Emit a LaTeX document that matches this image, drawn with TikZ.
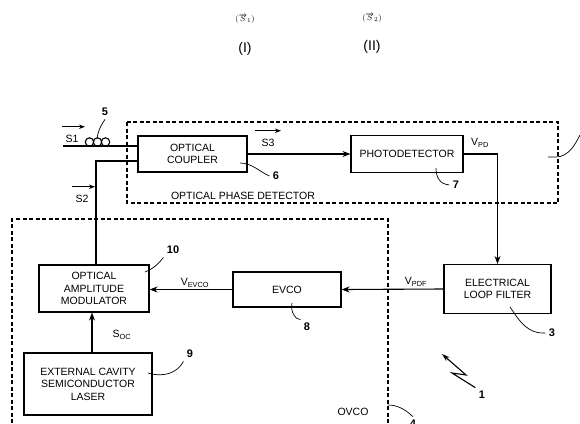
\documentclass[tikz,border=0pt]{standalone}
\usepackage{fontspec}
\setmainfont{Liberation Sans}
\usetikzlibrary{arrows.meta}

\begin{document}
\begin{tikzpicture}[x=1pt, y=-1pt,
      every node/.style={font=\fontsize{10.5}{12.5}\selectfont},
      block/.style={draw, line width=1.1pt, align=center, inner sep=0pt},
      frame/.style={dashed, dash pattern=on 4pt off 2.5pt, line width=1.1pt},
      sig/.style={line width=1.1pt, -{Stealth[length=8pt, width=6pt]}},
      fibre/.style={line width=1.1pt},
      lead/.style={line width=0.7pt},
      refnum/.style={font=\fontsize{11}{12}\selectfont\bfseries}]
    \useasboundingbox (0,0) rectangle (580,423);

    % titles on top
    \node[inner sep=1pt] (S1T) at (245,19) {\fontsize{8}{9}\selectfont $(\overrightarrow{S}_{1})$};
    \node[inner sep=1pt] (S2T) at (372,18) {\fontsize{8}{9}\selectfont $(\overrightarrow{S}_{2})$};
    \node[font=\fontsize{14}{16}\selectfont] (IT) at (245,49) {(I)};
    \node[font=\fontsize{14}{16}\selectfont] (IIT) at (372,47) {(II)};

    % dashed frames
    \draw[frame] (127,122) rectangle (558,203);
    \draw[frame] (12,423) -- (12,219) -- (388,219) -- (388,423);

    % blocks
    \node[block, minimum width=109pt, minimum height=36pt]
          (COUPLER) at (192.5,154) {OPTICAL\\COUPLER};
    \node[block, minimum width=112pt, minimum height=37pt]
          (PD) at (407,154) {PHOTODETECTOR};
    \node[block, minimum width=107pt, minimum height=49pt]
          (LPF) at (497.5,289) {ELECTRICAL\\LOOP FILTER};
    \node[block, minimum width=108pt, minimum height=35pt]
          (EVCO) at (287,289.5) {EVCO};
    \node[block, minimum width=110pt, minimum height=47pt]
          (OAM) at (94,288.5) {OPTICAL\\AMPLITUDE\\MODULATOR};
    \node[block, minimum width=128pt, minimum height=62pt]
          (ECL) at (88,384) {EXTERNAL CAVITY\\SEMICONDUCTOR\\LASER};

    % optical inputs
    \coordinate (S1IN) at (63,146);
    \coordinate (S2BEND) at (96,161);
    \draw[fibre] (S1IN) -- (S1IN -| COUPLER.west);
    \foreach \cx in {89.5,97.5,105.5}
      \draw[fibre] (\cx,142) circle (4.2pt);
    \draw[fibre] (S2BEND -| COUPLER.west) -- (S2BEND) -- (S2BEND |- OAM.north);

    % connections
    \draw[sig] (COUPLER.east) -- (COUPLER.east -| PD.west);
    \draw[sig] (PD.east) -- (PD.east -| LPF.north) -- (LPF.north);
    \draw[sig] (LPF.west) -- (EVCO.east);
    \draw[sig] (EVCO.west) -- (EVCO.west -| OAM.east);
    \draw[sig] ([xshift=4pt]ECL.north) -- ([xshift=4pt]ECL.north |- OAM.south);

    % signal labels
    \node (S1L) at (72,139) {S1};
    \draw[sig, -{Stealth[length=6pt, width=4.5pt]}] ([yshift=5pt]S1L.north west) -- ([yshift=5pt, xshift=3pt]S1L.north east);
    \node (S2L) at (82,199) {S2};
    \draw[sig, -{Stealth[length=6pt, width=4.5pt]}] ([yshift=5pt]S2L.north west) -- ([yshift=5pt, xshift=3pt]S2L.north east);
    \node (S3L) at (268,143) {S3};
    \draw[sig, -{Stealth[length=6pt, width=4.5pt]}] ([yshift=5pt, xshift=-3pt]S3L.north west) -- ([yshift=5pt, xshift=3pt]S3L.north east);
    \node (VPD) at (480,143) {V\textsubscript{PD}};
    \node (VPDF) at (416,282) {V\textsubscript{PDF}};
    \node (VEVCO) at (195,283) {V\textsubscript{EVCO}};
    \node (SOC) at (122,335) {S\textsubscript{OC}};
    \node (OPDL) at (243,196) {OPTICAL PHASE DETECTOR};
    \node (OVCOL) at (353,412) {OVCO};

    % reference numerals
    \node[refnum] (N5) at (105,112) {5};
    \draw[lead] (97,138) .. controls (99,128) and (102,124) .. (N5.south);
    \node[refnum] (N6) at (276,176) {6};
    \draw[lead] (240,163) .. controls (252,163) and (260,172) .. (N6.west);
    \node[refnum] (N7) at (456,185) {7};
    \draw[lead] (436,168) .. controls (436,178) and (440,184) .. (N7.west);
    \draw[lead] (548,157) -- (556,157) .. controls (568,157) and (575,145) .. (580,135);
    \node[refnum] (N3) at (552,333) {3};
    \draw[lead] (510,307) .. controls (520,322) and (528,334) .. (N3.west);
    \node[refnum] (N8) at (307,327) {8};
    \draw[lead] (292,303) .. controls (290,312) and (296,320) .. (N8.north west);
    \node[refnum] (N10) at (173,250) {10};
    \draw[lead] (145,272) .. controls (155,268) and (160,262) .. (N10.south west);
    \node[refnum] (N9) at (190,354) {9};
    \draw[lead] (148,373) .. controls (165,378) and (178,372) .. (N9.south west);
    \node[refnum] (N1) at (482,395) {1};
    \draw[line width=1.1pt, -{Stealth[length=8pt, width=5pt]}]
          (N1.north west) -- (452,373) -- (466,375) -- (442,354);
    \node[refnum] (N4) at (413,424) {4};
    \draw[lead] (388,405) .. controls (398,405) and (406,410) .. (N4.north);
  \end{tikzpicture}
\end{document}
